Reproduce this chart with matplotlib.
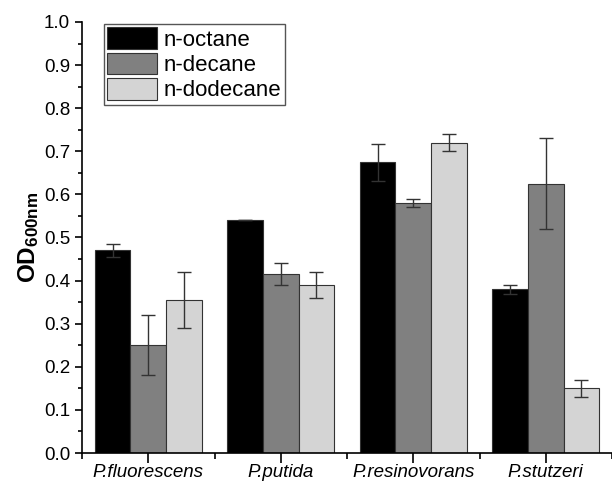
import matplotlib.pyplot as plt
import numpy as np
from matplotlib.ticker import MultipleLocator

plt.rcParams['font.family'] = ['Liberation Sans', 'DejaVu Sans']
plt.rcParams['mathtext.fontset'] = 'custom'
plt.rcParams['mathtext.rm'] = 'Liberation Sans'
plt.rcParams['mathtext.bf'] = 'Liberation Sans:bold'

strains = ['P.fluorescens', 'P.putida', 'P.resinovorans', 'P.stutzeri']
series = ['n-octane', 'n-decane', 'n-dodecane']
octane = [0.47, 0.54, 0.675, 0.38]
octane_err = [0.015, 0.0, 0.043, 0.01]
decane = [0.25, 0.415, 0.58, 0.625]
decane_err = [0.07, 0.025, 0.01, 0.105]
dodecane = [0.355, 0.39, 0.72, 0.15]
dodecane_err = [0.065, 0.03, 0.02, 0.02]

colors = ['#000000', '#808080', '#d4d4d4']
values = [octane, decane, dodecane]
errors = [octane_err, decane_err, dodecane_err]

fig = plt.figure(figsize=(6.12, 4.83), dpi=100)
ax = fig.add_axes([82/612, 30/483, 1 - 82/612, 431/483])

x = np.arange(len(strains))
w = 0.268
for k in range(3):
    ax.bar(x + (k - 1)*w, values[k], w, color=colors[k], edgecolor='#333333',
           linewidth=0.8, label=series[k], zorder=2)
    ax.errorbar(x + (k - 1)*w, values[k], yerr=errors[k], fmt='none',
                ecolor='#333333', elinewidth=1, capsize=5, capthick=1, zorder=3)

ax.set_xlim(-0.5, (612 - 149)/134.4)
ax.set_ylim(0, 1.0)
ax.set_xticks(x)
ax.set_xticklabels(strains, fontstyle='italic', fontsize=13.5)
ax.set_xticks(np.arange(-0.5, 4, 1), minor=True)
ax.yaxis.set_major_locator(MultipleLocator(0.1))
ax.yaxis.set_minor_locator(MultipleLocator(0.05))
ax.yaxis.set_major_formatter(plt.FormatStrFormatter('%.1f'))
ax.tick_params(axis='y', which='major', direction='out', length=5, width=1.2, labelsize=13.5)
ax.tick_params(axis='y', which='minor', direction='out', length=3, width=1.2)
ax.tick_params(axis='x', which='major', direction='out', length=7, width=1.2, pad=1)
ax.tick_params(axis='x', which='minor', direction='out', length=4, width=1.2)

for s in ['top', 'right']:
    ax.spines[s].set_visible(False)
for s in ['left', 'bottom']:
    ax.spines[s].set_linewidth(1.2)

ax.set_ylabel(r'$\mathbf{OD_{600nm}}$', fontsize=17.5, labelpad=2)

leg = ax.legend(loc='upper left', bbox_to_anchor=(104/612, 1 - 24/483),
                bbox_transform=fig.transFigure, borderaxespad=0, fontsize=16,
                handlelength=2.25, handleheight=1.1, labelspacing=0.1,
                handletextpad=0.3, borderpad=0.15, fancybox=False, framealpha=1)
leg.get_frame().set_edgecolor('#555555')
leg.get_frame().set_linewidth(1)

plt.savefig('out.png', dpi=100)
